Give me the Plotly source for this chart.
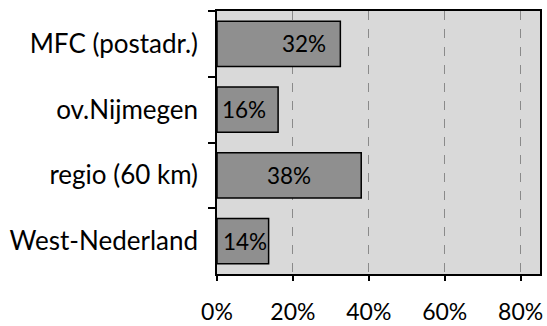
import plotly.graph_objects as go

categories = ["MFC (postadr.)", "ov.Nijmegen", "regio (60 km)", "West-Nederland"]
values = [0.325, 0.161, 0.38, 0.136]
labels = ["32%", "16%", "38%", "14%"]
x_ticks = [0, 0.2, 0.4, 0.6, 0.8]
x_ticklabels = ["0%", "20%", "40%", "60%", "80%"]

label_shift_px = [25, -4, 0, 2]

FONT = "Lato"

fig = go.Figure()
fig.add_trace(go.Bar(
    y=categories, x=values, orientation="h",
    marker=dict(color="#8f8f8f", line=dict(color="#000000", width=1.5)),
    width=0.69,
    hoverinfo="skip",
))

for c, v, t, s in zip(categories, values, labels, label_shift_px):
    fig.add_annotation(x=v / 2, y=c, text=t, showarrow=False, xshift=s,
                       font=dict(family=FONT, size=22.5, color="#000000"))

fig.update_layout(
    width=547, height=326,
    margin=dict(l=217, r=7, t=11, b=52, autoexpand=False),
    paper_bgcolor="#ffffff",
    plot_bgcolor="#d9d9d9",
    showlegend=False,
    font=dict(family=FONT, size=22, color="#000000"),
)
fig.update_xaxes(
    automargin=False,
    range=[0, 0.851], tickvals=x_ticks, ticktext=x_ticklabels,
    showgrid=True, gridcolor="#8a8a8a", griddash="dash", gridwidth=1,
    zeroline=False,
    showline=True, linecolor="#000000", linewidth=1.5, mirror=True,
    ticks="outside", ticklen=5, tickcolor="#000000", tickwidth=1.5,
    ticklabelstandoff=12,
    tickfont=dict(family=FONT, size=23, color="#000000"),
)
fig.update_yaxes(
    automargin=False,
    autorange="reversed",
    showgrid=False, zeroline=False,
    showline=True, linecolor="#000000", linewidth=1.5, mirror=True,
    ticks="outside", ticklen=7, tickcolor="#000000", tickwidth=1.5,
    tickson="boundaries",
    ticklabelstandoff=12,
    tickfont=dict(family=FONT, size=26, color="#000000"),
)

fig.write_html("out.html")
